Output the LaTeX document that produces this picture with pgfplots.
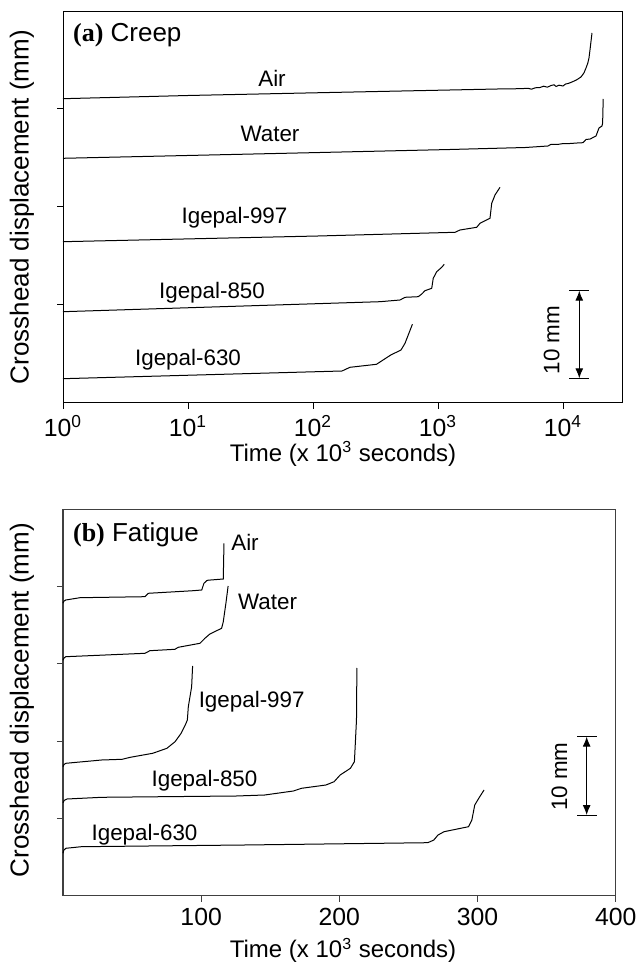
\documentclass[border=0pt]{standalone}
\usepackage{fontspec}
\setmainfont{Liberation Sans}
\newfontfamily\serifb{Liberation Serif}
\usepackage{pgfplots}
\pgfplotsset{compat=1.18}
\usetikzlibrary{arrows.meta}
\begin{document}
\fontsize{11.2}{13.4}\selectfont
\begin{tikzpicture}[font=\fontsize{11.2}{13.4}\selectfont]
\useasboundingbox (0,0) rectangle (319pt,485.5pt);
% ---------------- panel (a) ----------------
\begin{axis}[
  at={(31.5pt,284pt)}, anchor=south west,
  scale only axis, width=279.5pt, height=195.5pt,
  xmode=log, xmin=1, xmax=29650, ymin=0, ymax=391,
  xtick={1,10,100,1000,10000},
  xticklabels={10\textsuperscript{0},10\textsuperscript{1},10\textsuperscript{2},10\textsuperscript{3},10\textsuperscript{4}},
  xminorticks=false,
  ytick={98,196,294}, yticklabels={},
  tick align=outside, major tick length=3pt,
  xtick pos=bottom, ytick pos=left,
  axis line style={black, line width=0.5pt},
  tick style={black, line width=0.5pt},
  xticklabel style={font=\fontsize{12.4}{14}\selectfont, inner sep=1pt, yshift=-2pt},
  clip=false,
]
\addplot[black, line width=0.5pt] coordinates {(1,304.3) (10,307.5) (113.8,310.3) (1247,313) (3000,314) (4500,314.3) (5248,314.7) (5600,313.8) (6000,315.2) (6546,315.5) (7000,316.8) (7500,315.8) (8017,317.5) (8500,318.2) (8790,316.5) (9300,317.8) (10000,317) (10500,319) (11000,319.5) (11800,321) (12800,323) (13930,326) (14700,330) (15280,335) (15800,340) (16140,345) (16440,353) (17060,370)};
\addplot[black, line width=0.5pt] coordinates {(1,244.7) (113.8,250.5) (1247,253.5) (5000,255.5) (7586,257) (8017,258.7) (9000,258.5) (10000,259.4) (11380,259.5) (13000,260) (14450,260.3) (15280,263.5) (16500,264) (18370,267) (19410,275) (20510,277) (20750,280) (20890,295) (20950,304)};
\addplot[black, line width=0.5pt] coordinates {(1,161.3) (109.6,167) (1368,170.7) (1500,173) (2040,175.7) (2168,179.7) (2606,184.7) (2690,199.7) (2858,208) (3133,215.7)};
\addplot[black, line width=0.5pt] coordinates {(1,91.3) (343.6,101.3) (496.6,103) (544.5,105.7) (695.5,106.3) (741,109) (787,112.3) (891,114.7) (916,124.7) (977,131.3) (1071,135.7) (1122,138.7)};
\addplot[black, line width=0.5pt] coordinates {(1,24.3) (170.6,32) (197.7,35.7) (322,38.7) (419,48) (505.8,53) (544.5,59.7) (624,78.7)};
% scale bar
\draw[black, line width=0.5pt] (axis cs:11170,112.3) -- (axis cs:16140,112.3);
\draw[black, line width=0.5pt] (axis cs:11170,24.7) -- (axis cs:16140,24.7);
\draw[black, line width=0.5pt, {Latex[length=5pt,width=4pt]}-{Latex[length=5pt,width=4pt]}] (axis cs:13500,112.3) -- (axis cs:13500,24.7);
\end{axis}
% ---------------- panel (b) ----------------
\begin{axis}[
  at={(31.5pt,37.65pt)}, anchor=south west,
  scale only axis, width=276.35pt, height=193.2pt,
  xmin=0, xmax=400, ymin=0, ymax=386.4,
  xtick={100,200,300,400},
  ytick={77.3,154.6,231.8,309.1}, yticklabels={},
  tick align=outside, major tick length=3pt,
  xtick pos=bottom, ytick pos=left,
  axis line style={black!75, line width=0.6pt},
  tick style={black!75, line width=0.5pt},
  /pgf/number format/assume math mode=true,
  xticklabel style={font=\fontsize{12.4}{14}\selectfont, inner sep=1pt, yshift=-2pt},
  clip=false,
]
\addplot[black, line width=0.5pt] coordinates {(0,292.5) (0.6,294.5) (2,295.7) (12.3,298) (59.3,299) (61.7,302.4) (94.3,305) (100.4,305.7) (102,312.4) (104,315) (105.1,315.5) (116,316.7) (116.5,352.4)};
\addplot[black, line width=0.5pt] coordinates {(0,235.5) (0.6,237.5) (2,239) (59.3,242.4) (62.9,245) (81,246.4) (83.4,248.4) (99.1,252.4) (102.7,257.4) (106.3,261.7) (114.8,267.4) (116,274) (117.9,292.4) (119.5,309.7)};
\addplot[black, line width=0.5pt] coordinates {(0,129) (0.6,131) (2,132.4) (28,135.7) (42.8,136.4) (48.7,138.4) (64.9,142.4) (75.2,147.4) (81.1,154) (85.5,162.4) (88.5,170.7) (90,175.7) (90.7,189) (93.1,209) (93.8,229.7)};
\addplot[black, line width=0.5pt] coordinates {(0,93) (0.8,95.3) (2.9,96.7) (28,98.4) (72.3,99) (125.4,99.7) (146,100.7) (166.7,104.7) (172.6,107.4) (190.3,110.7) (196.2,114) (200.6,120.7) (208,127.4) (210.9,134) (212.4,175.7) (212.7,227.7)};
\addplot[black, line width=0.5pt] coordinates {(0,42.5) (0.6,45.5) (2,47.4) (13.3,49) (131.3,50.7) (264,53) (268.4,55.7) (271.4,60.7) (275.8,64) (293.5,69) (295.9,75.7) (298,90.7) (300.9,97.4) (304.7,105.7)};
\draw[black, line width=0.5pt] (axis cs:372.2,159) -- (axis cs:386.2,159);
\draw[black, line width=0.5pt] (axis cs:372.2,80.7) -- (axis cs:386.2,80.7);
\draw[black, line width=0.5pt, {Latex[length=5pt,width=4pt]}-{Latex[length=5pt,width=4pt]}] (axis cs:379,159) -- (axis cs:379,80.7);
\end{axis}
% ---------------- texts ----------------
% panel a
\node[anchor=base west, inner sep=0, font=\fontsize{13}{15}\selectfont] at (36.35pt,464.65pt) {{\serifb\bfseries (a)} Creep};
\node[anchor=base, inner sep=0] at (136pt,442.15pt) {Air};
\node[anchor=base, inner sep=0] at (135pt,414.65pt) {Water};
\node[anchor=base, inner sep=0] at (117.25pt,373.5pt) {Igepal-997};
\node[anchor=base, inner sep=0] at (106pt,336.35pt) {Igepal-850};
\node[anchor=base, inner sep=0] at (94pt,302.5pt) {Igepal-630};
\node[rotate=90, inner sep=0] at (275.85pt,315.5pt) {10 mm};
\node[anchor=base, inner sep=0, font=\fontsize{12}{14}\selectfont] at (171.5pt,254.65pt) {Time (x 10\textsuperscript{3} seconds)};
\node[rotate=90, inner sep=0, font=\fontsize{13}{15}\selectfont] at (11pt,382pt) {Crosshead displacement (mm)};
% panel b
\node[anchor=base west, inner sep=0, font=\fontsize{13}{15}\selectfont] at (36.35pt,214.65pt) {{\serifb\bfseries (b)} Fatigue};
\node[anchor=base, inner sep=0] at (122.5pt,210.15pt) {Air};
\node[anchor=base, inner sep=0] at (133.75pt,180.5pt) {Water};
\node[anchor=base, inner sep=0] at (125.85pt,131.65pt) {Igepal-997};
\node[anchor=base, inner sep=0] at (102.25pt,92.15pt) {Igepal-850};
\node[anchor=base, inner sep=0] at (72.25pt,65.15pt) {Igepal-630};
\node[rotate=90, inner sep=0] at (279.65pt,97.15pt) {10 mm};
\node[anchor=base, inner sep=0, font=\fontsize{12}{14}\selectfont] at (171.5pt,6.5pt) {Time (x 10\textsuperscript{3} seconds)};
\node[rotate=90, inner sep=0, font=\fontsize{13}{15}\selectfont] at (11pt,135.5pt) {Crosshead displacement (mm)};
\end{tikzpicture}
\end{document}
